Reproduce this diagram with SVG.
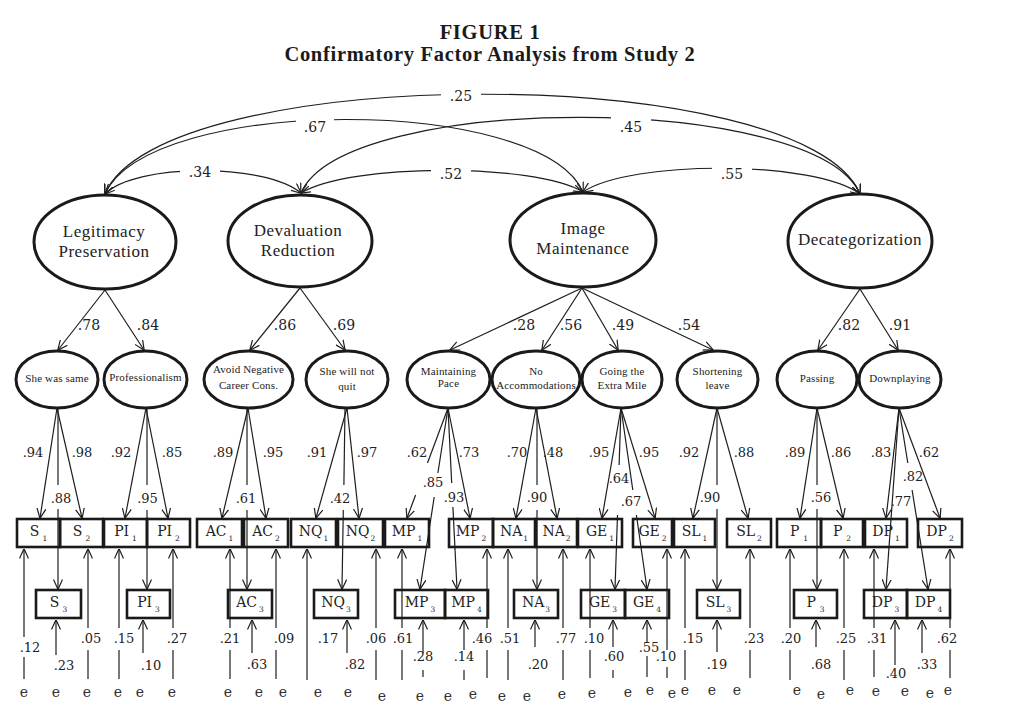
<svg xmlns="http://www.w3.org/2000/svg" width="1010" height="708" viewBox="0 0 1010 708">
<defs>
<style>
.ln path{fill:none;stroke:#1e1e1e;stroke-width:1.2}
.arr{marker-end:url(#ah)}
.dbl{marker-start:url(#ah);marker-end:url(#ah)}
.el{fill:#fff;stroke:#1a1a1a;stroke-width:3}
.bx{fill:none;stroke:#1a1a1a;stroke-width:2.6}
.ttl{font-family:"Liberation Serif",serif;font-weight:bold;font-size:20.5px;letter-spacing:0.7px;text-anchor:middle;fill:#1a1a1a}
.big{font-family:"Liberation Serif",serif;font-size:17px;letter-spacing:0.5px;text-anchor:middle;fill:#222}
.sm{font-family:"Liberation Serif",serif;font-size:11px;letter-spacing:0.15px;text-anchor:middle;fill:#222}
.n14{font-family:"DejaVu Serif",serif;font-size:14px;text-anchor:middle;fill:#222}
.n13{font-family:"DejaVu Serif",serif;font-size:13px;text-anchor:middle;fill:#222}
.bt{font-family:"DejaVu Serif",serif;font-size:14px;text-anchor:middle;fill:#222}
.sb{font-size:7.5px}
.e{font-family:"DejaVu Serif",serif;font-size:14px;text-anchor:middle;fill:#333}
.gap{fill:#fff}
</style>
<marker id="ah" viewBox="0 0 10 10" refX="9.6" refY="5" markerWidth="10" markerHeight="10" markerUnits="userSpaceOnUse" orient="auto-start-reverse">
<path d="M0,0.5 L10,5 L0,9.5" fill="none" stroke="#1e1e1e" stroke-width="1.2"/>
</marker>
</defs>
<rect width="1010" height="708" fill="#fff"/>
<g id="title">
<text class="ttl" x="490" y="39">FIGURE 1</text>
<text class="ttl" x="490" y="61">Confirmatory Factor Analysis from Study 2</text>
</g>
<g id="connectors" class="ln">
<path class="dbl" d="M105,194 C160,61 805,61 860,194"/>
<path class="dbl" d="M105,194 C150,95 540,95 583,192"/>
<path class="dbl" d="M301,193 C345,92 815,92 860,194"/>
<path class="dbl" d="M105,194 C135,163 265,163 301,193"/>
<path class="dbl" d="M301,193 C350,163 535,163 583,192"/>
<path class="dbl" d="M583,192 C630,160 815,160 860,194"/>
<path class="arr" d="M105,290 L58,350"/>
<path class="arr" d="M105,290 L144,350"/>
<path class="arr" d="M300,288 L250,350"/>
<path class="arr" d="M300,288 L345,350"/>
<path class="arr" d="M582,288 L450,350"/>
<path class="arr" d="M582,288 L542,350"/>
<path class="arr" d="M582,288 L618,350"/>
<path class="arr" d="M582,288 L713,350"/>
<path class="arr" d="M860,289 L818,350"/>
<path class="arr" d="M860,289 L898,350"/>
<path class="arr" d="M57,408 L40,518"/>
<path class="arr" d="M57,408 L82,518"/>
<path d="M58,408 V485"/>
<path class="arr" d="M58,509 V589"/>
<path class="arr" d="M146,408 L125,518"/>
<path class="arr" d="M146,408 L168,518"/>
<path d="M147,408 V485"/>
<path class="arr" d="M147,510 V589"/>
<path class="arr" d="M248,408 L222,518"/>
<path class="arr" d="M248,408 L266,518"/>
<path d="M247,408 V485"/>
<path class="arr" d="M247,510 V589"/>
<path class="arr" d="M347,408 L316,518"/>
<path class="arr" d="M347,408 L359,518"/>
<path d="M345,408 L343.9,485"/>
<path class="arr" d="M343.3,510 L342,589"/>
<path d="M448,408 L427.5,463"/>
<path class="arr" d="M415.6,495 L407,518"/>
<path class="arr" d="M448,408 L470,518"/>
<path d="M448,408 L437.9,473"/>
<path class="arr" d="M434.2,497 L420,589"/>
<path d="M448,408 L451.7,483"/>
<path class="arr" d="M452.9,507 L457,589"/>
<path class="arr" d="M536,408 L516,518"/>
<path class="arr" d="M536,408 L557,518"/>
<path d="M537,408 V485"/>
<path class="arr" d="M537,510 V589"/>
<path class="arr" d="M621,408 L602,518"/>
<path class="arr" d="M621,408 L655,518"/>
<path d="M621,408 L619.1,465"/>
<path class="arr" d="M617.5,515 L615,589"/>
<path d="M621,408 L632.8,490"/>
<path class="arr" d="M636.4,515 L647,589"/>
<path class="arr" d="M717,408 L693,518"/>
<path class="arr" d="M717,408 L748,518"/>
<path d="M717,408 V485"/>
<path class="arr" d="M717,509 V589"/>
<path class="arr" d="M817,408 L800,518"/>
<path class="arr" d="M817,408 L843,518"/>
<path d="M817,408 V485"/>
<path class="arr" d="M817,509 V589"/>
<path class="arr" d="M899,408 L886,518"/>
<path class="arr" d="M899,408 L940,518"/>
<path class="arr" d="M899,408 L886,589"/>
<path d="M899,408 L907.8,463"/>
<path class="arr" d="M912.1,490 L928,589"/>
<path d="M24,679 V657"/><path class="arr" d="M24,637 V549"/>
<path d="M88,679 V650"/><path class="arr" d="M88,628 V549"/>
<path d="M119,679 V650"/><path class="arr" d="M119,628 V549"/>
<path d="M173,679 V650"/><path class="arr" d="M173,628 V549"/>
<path d="M230,679 V650"/><path class="arr" d="M230,628 V549"/>
<path d="M276,679 V650"/><path class="arr" d="M276,628 V549"/>
<path class="arr" d="M307,680 V549"/>
<path d="M376,680 V650"/><path class="arr" d="M376,628 V549"/>
<path d="M402,680 V650"/><path class="arr" d="M402,628 V549"/>
<path d="M487,678 V650"/><path class="arr" d="M487,628 V549"/>
<path d="M508,680 V650"/><path class="arr" d="M508,628 V549"/>
<path d="M563,680 V650"/><path class="arr" d="M563,628 V549"/>
<path d="M590,678 V650"/><path class="arr" d="M590,628 V549"/>
<path d="M667,678 V667"/><path class="arr" d="M667,650 V549"/>
<path d="M685,680 V650"/><path class="arr" d="M685,628 V549"/>
<path d="M750,678 V650"/><path class="arr" d="M750,628 V549"/>
<path d="M790,680 V650"/><path class="arr" d="M790,628 V549"/>
<path d="M844,680 V650"/><path class="arr" d="M844,628 V549"/>
<path d="M874,677 V650"/><path class="arr" d="M874,628 V549"/>
<path d="M950,678 V650"/><path class="arr" d="M950,628 V549"/>
<path class="arr" d="M56,655 V620"/>
<path class="arr" d="M143,653 V620"/>
<path class="arr" d="M252,653 V620"/>
<path class="arr" d="M347,653 V620"/>
<path class="arr" d="M423,653 V620"/><path d="M423,670 V677"/>
<path class="arr" d="M464,650 V620"/><path d="M464,670 V680"/>
<path class="arr" d="M535,647 V620"/>
<path class="arr" d="M613,647 V620"/><path d="M613,670 V678"/>
<path class="arr" d="M647,642 V620"/><path d="M647,656 V677"/>
<path class="arr" d="M717,652 V620"/>
<path class="arr" d="M816,647 V620"/>
<path class="arr" d="M895,665 V620"/>
<path class="arr" d="M922,653 V620"/>
</g>
<g id="connector-labels">
<rect class="gap" x="441" y="86" width="40" height="18"/>
<rect class="gap" x="296" y="116" width="38" height="18"/>
<rect class="gap" x="611" y="116" width="40" height="18"/>
<rect class="gap" x="180" y="161" width="40" height="18"/>
<rect class="gap" x="431" y="163" width="40" height="18"/>
<rect class="gap" x="712" y="163" width="40" height="18"/>
<text class="n14" x="461" y="101">.25</text>
<text class="n14" x="315" y="132">.67</text>
<text class="n14" x="631" y="132">.45</text>
<text class="n14" x="200" y="177">.34</text>
<text class="n14" x="451" y="179">.52</text>
<text class="n14" x="732" y="179">.55</text>
<text class="n14" x="89" y="330">.78</text>
<text class="n14" x="148" y="330">.84</text>
<text class="n14" x="285" y="330">.86</text>
<text class="n14" x="344" y="330">.69</text>
<text class="n14" x="524" y="330">.28</text>
<text class="n14" x="571" y="330">.56</text>
<text class="n14" x="623" y="330">.49</text>
<text class="n14" x="689" y="330">.54</text>
<text class="n14" x="849" y="330">.82</text>
<text class="n14" x="900" y="330">.91</text>
<text class="n13" x="33" y="457">.94</text>
<text class="n13" x="82" y="457">.98</text>
<text class="n13" x="61" y="503">.88</text>
<text class="n13" x="121" y="457">.92</text>
<text class="n13" x="172" y="457">.85</text>
<text class="n13" x="147.5" y="503">.95</text>
<text class="n13" x="223" y="457">.89</text>
<text class="n13" x="273" y="457">.95</text>
<text class="n13" x="246" y="503">.61</text>
<text class="n13" x="317" y="457">.91</text>
<text class="n13" x="367" y="457">.97</text>
<text class="n13" x="340" y="503">.42</text>
<text class="n13" x="417" y="457">.62</text>
<text class="n13" x="469" y="457">.73</text>
<text class="n13" x="433" y="487">.85</text>
<text class="n13" x="454" y="502">.93</text>
<text class="n13" x="517" y="457">.70</text>
<text class="n13" x="553" y="457">.48</text>
<text class="n13" x="537" y="502">.90</text>
<text class="n13" x="599" y="457">.95</text>
<text class="n13" x="649" y="457">.95</text>
<text class="n13" x="619" y="483">.64</text>
<text class="n13" x="631" y="506">.67</text>
<text class="n13" x="689" y="457">.92</text>
<text class="n13" x="744" y="457">.88</text>
<text class="n13" x="710" y="502">.90</text>
<text class="n13" x="795" y="457">.89</text>
<text class="n13" x="841" y="457">.86</text>
<text class="n13" x="821" y="502">.56</text>
<text class="n13" x="881" y="457">.83</text>
<text class="n13" x="929" y="457">.62</text>
<text class="n13" x="913" y="481">.82</text>
<text class="n13" x="901" y="506">.77</text>
<text class="n13" x="30" y="652">.12</text>
<text class="n13" x="91" y="643">.05</text>
<text class="n13" x="124" y="643">.15</text>
<text class="n13" x="177" y="643">.27</text>
<text class="n13" x="64" y="670">.23</text>
<text class="n13" x="151" y="670">.10</text>
<text class="n13" x="230" y="643">.21</text>
<text class="n13" x="284" y="643">.09</text>
<text class="n13" x="328" y="643">.17</text>
<text class="n13" x="376" y="643">.06</text>
<text class="n13" x="257" y="669">.63</text>
<text class="n13" x="355" y="669">.82</text>
<text class="n13" x="403" y="643">.61</text>
<text class="n13" x="482" y="643">.46</text>
<text class="n13" x="510" y="643">.51</text>
<text class="n13" x="566" y="643">.77</text>
<text class="n13" x="423" y="661">.28</text>
<text class="n13" x="464" y="661">.14</text>
<text class="n13" x="538" y="669">.20</text>
<text class="n13" x="594" y="643">.10</text>
<text class="n13" x="666" y="661">.10</text>
<text class="n13" x="693" y="643">.15</text>
<text class="n13" x="754" y="643">.23</text>
<text class="n13" x="614" y="661">.60</text>
<text class="n13" x="649" y="652">.55</text>
<text class="n13" x="717" y="669">.19</text>
<text class="n13" x="791" y="643">.20</text>
<text class="n13" x="846" y="643">.25</text>
<text class="n13" x="877" y="643">.31</text>
<text class="n13" x="947" y="643">.62</text>
<text class="n13" x="821" y="669">.68</text>
<text class="n13" x="896" y="678">.40</text>
<text class="n13" x="927" y="669">.33</text>
</g>
<g id="legitimacy-preservation"><ellipse class="el" cx="105" cy="242" rx="71" ry="47"/><text class="big" x="104" y="237">Legitimacy</text><text class="big" x="104" y="257">Preservation</text></g>
<g id="devaluation-reduction"><ellipse class="el" cx="300" cy="241" rx="72" ry="46"/><text class="big" x="298" y="236">Devaluation</text><text class="big" x="298" y="256">Reduction</text></g>
<g id="image-maintenance"><ellipse class="el" cx="583" cy="240" rx="73" ry="47"/><text class="big" x="583" y="234">Image</text><text class="big" x="583" y="254">Maintenance</text></g>
<g id="decategorization"><ellipse class="el" cx="860" cy="241" rx="72" ry="47"/><text class="big" x="860" y="245">Decategorization</text></g>
<g id="she-was-same"><ellipse class="el" cx="57" cy="379.5" rx="41" ry="28.5"/><text class="sm" x="57" y="382">She was same</text></g>
<g id="professionalism"><ellipse class="el" cx="145.5" cy="379.5" rx="41.5" ry="28.5"/><text class="sm" x="145.5" y="381">Professionalism</text></g>
<g id="avoid-negative"><ellipse class="el" cx="248.5" cy="379.5" rx="44.5" ry="28.5"/><text class="sm" x="248.5" y="373">Avoid Negative</text><text class="sm" x="248.5" y="389">Career Cons.</text></g>
<g id="will-not-quit"><ellipse class="el" cx="347" cy="379.5" rx="41" ry="28.5"/><text class="sm" x="347" y="375">She will not</text><text class="sm" x="347" y="390">quit</text></g>
<g id="maintaining-pace"><ellipse class="el" cx="448.5" cy="379.5" rx="41.5" ry="28.5"/><text class="sm" x="448.5" y="375">Maintaining</text><text class="sm" x="448.5" y="387">Pace</text></g>
<g id="no-accommodations"><ellipse class="el" cx="536" cy="379.5" rx="44" ry="28.5"/><text class="sm" x="536" y="375">No</text><text class="sm" x="536" y="389">Accommodations</text></g>
<g id="extra-mile"><ellipse class="el" cx="622" cy="379.5" rx="40" ry="28.5"/><text class="sm" x="622" y="375">Going the</text><text class="sm" x="622" y="389">Extra Mile</text></g>
<g id="shortening-leave"><ellipse class="el" cx="717.5" cy="379.5" rx="40.5" ry="28.5"/><text class="sm" x="717.5" y="375">Shortening</text><text class="sm" x="717.5" y="389">leave</text></g>
<g id="passing"><ellipse class="el" cx="817" cy="379.5" rx="40" ry="28.5"/><text class="sm" x="817" y="382">Passing</text></g>
<g id="downplaying"><ellipse class="el" cx="900" cy="379.5" rx="41" ry="28.5"/><text class="sm" x="900" y="382">Downplaying</text></g>
<g id="S1"><rect class="bx" x="17" y="519" width="43" height="28"/><text class="bt" x="38.5" y="535.5">S<tspan class="sb" dx="3" dy="5">1</tspan></text></g>
<g id="S2"><rect class="bx" x="60" y="519" width="43" height="28"/><text class="bt" x="81.5" y="535.5">S<tspan class="sb" dx="3" dy="5">2</tspan></text></g>
<g id="PI1"><rect class="bx" x="104" y="519" width="43" height="28"/><text class="bt" x="125.5" y="535.5">PI<tspan class="sb" dx="3" dy="5">1</tspan></text></g>
<g id="PI2"><rect class="bx" x="147" y="519" width="43" height="28"/><text class="bt" x="168.5" y="535.5">PI<tspan class="sb" dx="3" dy="5">2</tspan></text></g>
<g id="AC1"><rect class="bx" x="197" y="519" width="45" height="28"/><text class="bt" x="219.5" y="535.5">AC<tspan class="sb" dx="2" dy="5">1</tspan></text></g>
<g id="AC2"><rect class="bx" x="244" y="519" width="44" height="28"/><text class="bt" x="266" y="535.5">AC<tspan class="sb" dx="2" dy="5">2</tspan></text></g>
<g id="NQ1"><rect class="bx" x="291" y="519" width="45" height="28"/><text class="bt" x="313.5" y="535.5">NQ<tspan class="sb" dx="1" dy="5">1</tspan></text></g>
<g id="NQ2"><rect class="bx" x="338" y="519" width="45" height="28"/><text class="bt" x="360.5" y="535.5">NQ<tspan class="sb" dx="1" dy="5">2</tspan></text></g>
<g id="MP1"><rect class="bx" x="385" y="519" width="44" height="28"/><text class="bt" x="407" y="535.5">MP<tspan class="sb" dx="2" dy="5">1</tspan></text></g>
<g id="MP2"><rect class="bx" x="449" y="519" width="44" height="28"/><text class="bt" x="471" y="535.5">MP<tspan class="sb" dx="2" dy="5">2</tspan></text></g>
<g id="NA1"><rect class="bx" x="493" y="519" width="42" height="28"/><text class="bt" x="514" y="535.5">NA<tspan class="sb" dx="1" dy="5">1</tspan></text></g>
<g id="NA2"><rect class="bx" x="536" y="519" width="41" height="28"/><text class="bt" x="556.5" y="535.5">NA<tspan class="sb" dx="1" dy="5">2</tspan></text></g>
<g id="GE1"><rect class="bx" x="578" y="519" width="44" height="28"/><text class="bt" x="600" y="535.5">GE<tspan class="sb" dx="2" dy="5">1</tspan></text></g>
<g id="GE2"><rect class="bx" x="633" y="519" width="39" height="28"/><text class="bt" x="652.5" y="535.5">GE<tspan class="sb" dx="2" dy="5">2</tspan></text></g>
<g id="SL1"><rect class="bx" x="674" y="519" width="41" height="28"/><text class="bt" x="694.5" y="535.5">SL<tspan class="sb" dx="2" dy="5">1</tspan></text></g>
<g id="SL2"><rect class="bx" x="727" y="519" width="44" height="28"/><text class="bt" x="749" y="535.5">SL<tspan class="sb" dx="2" dy="5">2</tspan></text></g>
<g id="P1"><rect class="bx" x="777" y="519" width="44" height="28"/><text class="bt" x="799" y="535.5">P<tspan class="sb" dx="4" dy="5">1</tspan></text></g>
<g id="P2"><rect class="bx" x="821" y="519" width="42" height="28"/><text class="bt" x="842" y="535.5">P<tspan class="sb" dx="4" dy="5">2</tspan></text></g>
<g id="DP1"><rect class="bx" x="865" y="519" width="42" height="28"/><text class="bt" x="886" y="535.5">DP<tspan class="sb" dx="2" dy="5">1</tspan></text></g>
<g id="DP2"><rect class="bx" x="918" y="519" width="44" height="28"/><text class="bt" x="940" y="535.5">DP<tspan class="sb" dx="2" dy="5">2</tspan></text></g>
<g id="S3"><rect class="bx" x="36" y="590" width="45" height="28"/><text class="bt" x="58.5" y="606.5">S<tspan class="sb" dx="3" dy="5">3</tspan></text></g>
<g id="PI3"><rect class="bx" x="127" y="590" width="43" height="28"/><text class="bt" x="148.5" y="606.5">PI<tspan class="sb" dx="3" dy="5">3</tspan></text></g>
<g id="AC3"><rect class="bx" x="228" y="590" width="44" height="28"/><text class="bt" x="250" y="606.5">AC<tspan class="sb" dx="2" dy="5">3</tspan></text></g>
<g id="NQ3"><rect class="bx" x="314" y="590" width="44" height="28"/><text class="bt" x="336" y="606.5">NQ<tspan class="sb" dx="1" dy="5">3</tspan></text></g>
<g id="MP3"><rect class="bx" x="395" y="590" width="50" height="28"/><text class="bt" x="420" y="606.5">MP<tspan class="sb" dx="2" dy="5">3</tspan></text></g>
<g id="MP4"><rect class="bx" x="445" y="590" width="43" height="28"/><text class="bt" x="466.5" y="606.5">MP<tspan class="sb" dx="2" dy="5">4</tspan></text></g>
<g id="NA3"><rect class="bx" x="514" y="590" width="44" height="28"/><text class="bt" x="536" y="606.5">NA<tspan class="sb" dx="1" dy="5">3</tspan></text></g>
<g id="GE3"><rect class="bx" x="581" y="590" width="44" height="28"/><text class="bt" x="603" y="606.5">GE<tspan class="sb" dx="2" dy="5">3</tspan></text></g>
<g id="GE4"><rect class="bx" x="625" y="590" width="44" height="28"/><text class="bt" x="647" y="606.5">GE<tspan class="sb" dx="2" dy="5">4</tspan></text></g>
<g id="SL3"><rect class="bx" x="697" y="590" width="43" height="28"/><text class="bt" x="718.5" y="606.5">SL<tspan class="sb" dx="2" dy="5">3</tspan></text></g>
<g id="P3"><rect class="bx" x="794" y="590" width="43" height="28"/><text class="bt" x="815.5" y="606.5">P<tspan class="sb" dx="4" dy="5">3</tspan></text></g>
<g id="DP3"><rect class="bx" x="864" y="590" width="43" height="28"/><text class="bt" x="885.5" y="606.5">DP<tspan class="sb" dx="2" dy="5">3</tspan></text></g>
<g id="DP4"><rect class="bx" x="907" y="590" width="43" height="28"/><text class="bt" x="928.5" y="606.5">DP<tspan class="sb" dx="2" dy="5">4</tspan></text></g>
<g id="error-terms">
<text class="e" x="24" y="697">e</text><text class="e" x="56" y="697">e</text><text class="e" x="87" y="697">e</text><text class="e" x="118" y="697">e</text><text class="e" x="140" y="697">e</text><text class="e" x="172" y="697">e</text>
<text class="e" x="228" y="697">e</text><text class="e" x="259" y="697">e</text><text class="e" x="283" y="697">e</text><text class="e" x="318" y="697">e</text><text class="e" x="348" y="697">e</text><text class="e" x="382" y="701">e</text>
<text class="e" x="420" y="701">e</text><text class="e" x="448" y="701">e</text><text class="e" x="473" y="699">e</text><text class="e" x="502" y="701">e</text><text class="e" x="527" y="701">e</text><text class="e" x="562" y="699">e</text>
<text class="e" x="592" y="698">e</text><text class="e" x="628" y="697">e</text><text class="e" x="650" y="695">e</text><text class="e" x="672" y="698">e</text><text class="e" x="685" y="695">e</text><text class="e" x="712" y="695">e</text><text class="e" x="737" y="695">e</text>
<text class="e" x="797" y="695">e</text><text class="e" x="821" y="699">e</text><text class="e" x="850" y="695">e</text><text class="e" x="876" y="696">e</text><text class="e" x="905" y="696">e</text><text class="e" x="930" y="698">e</text><text class="e" x="948" y="695">e</text>
</g>
</svg>
